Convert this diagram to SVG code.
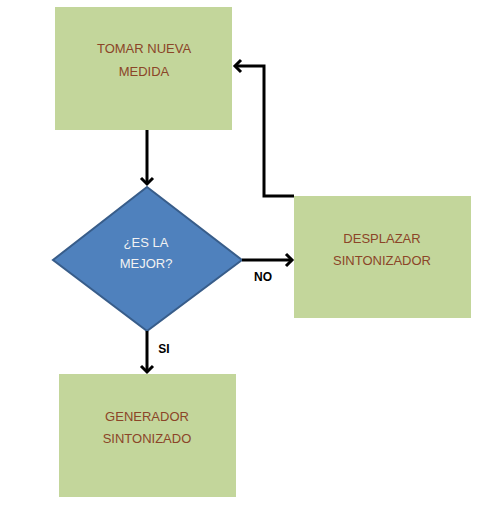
<svg xmlns="http://www.w3.org/2000/svg" width="491" height="509" viewBox="0 0 491 509">
<style>
.box{fill:#C3D69B;}
.t{font-family:"Liberation Sans",Arial,sans-serif;font-size:13px;fill:#8B4528;text-anchor:middle;}
.td{font-family:"Liberation Sans",Arial,sans-serif;font-size:13px;fill:#F2F2F2;text-anchor:middle;}
.lbl{font-family:"Liberation Sans",Arial,sans-serif;font-size:12px;font-weight:bold;fill:#000;text-anchor:middle;}
.c{fill:none;stroke:#000;stroke-width:3;}
.ah{fill:none;stroke:#000;stroke-width:3;stroke-linecap:butt;stroke-linejoin:miter;}
</style>
<rect width="491" height="509" fill="#fff"/>
<g id="n1">
<rect class="box" x="55" y="7" width="177" height="123"/>
<text class="t" x="144" y="53">TOMAR NUEVA</text>
<text class="t" x="144" y="76">MEDIDA</text>
</g>
<g id="n2">
<polygon points="147,187 242,260 147,331 53,260" fill="#4F81BD" stroke="#385D8A" stroke-width="2"/>
<text class="td" x="146" y="247">¿ES LA</text>
<text class="td" x="146" y="268">MEJOR?</text>
</g>
<g id="n3">
<rect class="box" x="294" y="196" width="177" height="122"/>
<text class="t" x="382" y="243">DESPLAZAR</text>
<text class="t" x="382" y="265">SINTONIZADOR</text>
</g>
<g id="n4">
<rect class="box" x="59" y="374" width="177" height="123"/>
<text class="t" x="147" y="421">GENERADOR</text>
<text class="t" x="147" y="443">SINTONIZADO</text>
</g>
<g id="connectors">
<line class="c" x1="147" y1="130" x2="147" y2="184"/>
<polyline class="ah" points="141,178 147,184 153,178"/>
<line class="c" x1="242" y1="260" x2="292" y2="260"/>
<polyline class="ah" points="286,254 292,260 286,266"/>
<polyline class="c" points="294,196 264,196 264,66 235,66"/>
<polyline class="ah" points="241,60 235,66 241,72"/>
<line class="c" x1="147" y1="331" x2="147" y2="372"/>
<polyline class="ah" points="141,366 147,372 153,366"/>
<text class="lbl" x="263" y="281">NO</text>
<text class="lbl" x="164" y="353">SI</text>
</g>
</svg>
